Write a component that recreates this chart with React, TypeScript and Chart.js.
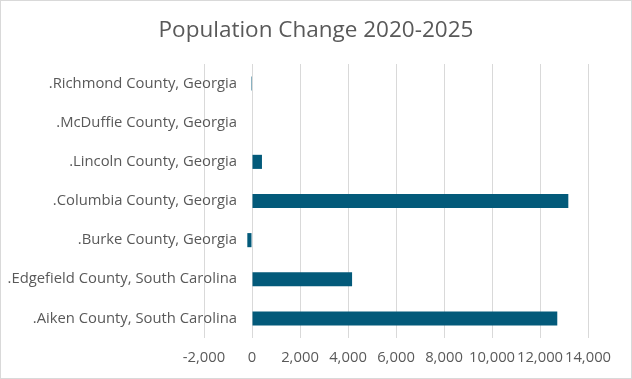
import React, { useEffect, useRef } from "react";
import { Chart, registerables } from "chart.js";

Chart.register(...registerables);

const categories = [
  ".Richmond County, Georgia",
  ".McDuffie County, Georgia",
  ".Lincoln County, Georgia",
  ".Columbia County, Georgia",
  ".Burke County, Georgia",
  ".Edgefield County, South Carolina",
  ".Aiken County, South Carolina",
];
const populationChange = [-40, 0, 415, 13180, -195, 4170, 12720];
const titleText = "Population Change 2020-2025";
const xMin = -2000;
const xMax = 14000;
const xStep = 2000;

export default function App() {
  const ref = useRef<HTMLCanvasElement | null>(null);
  useEffect(() => {
    document.body.style.margin = "0";
    const ctx = ref.current!;
    const family = "'Open Sans', sans-serif";
    const labelSize = 14.8;
    const m = document.createElement("canvas").getContext("2d")!;
    m.font = `${labelSize}px ${family}`;
    const widest = Math.max(...categories.map((c) => m.measureText(c).width));
    const chart = new Chart(ctx, {
      type: "bar",
      data: {
        labels: categories,
        datasets: [
          {
            data: populationChange,
            backgroundColor: "#035a7a",
            barPercentage: 0.9,
            categoryPercentage: 0.4,
          },
        ],
      },
      options: {
        indexAxis: "y",
        animation: false,
        responsive: false,
        layout: { padding: { left: 43, right: 43, top: 1, bottom: 0 } },
        plugins: {
          legend: { display: false },
          tooltip: { enabled: false },
          title: {
            display: true,
            text: titleText,
            color: "#595959",
            font: { family, size: 22.5, weight: "normal" },
            padding: { top: 15, bottom: 20 },
          },
        },
        scales: {
          x: {
            min: xMin,
            max: xMax,
            ticks: {
              stepSize: xStep,
              color: "#595959",
              font: { family, size: labelSize },
              padding: 11,
              maxRotation: 0,
              autoSkip: false,
            },
            grid: { color: "#d9d9d9", drawTicks: false },
            border: { display: false },
            afterFit: (scale: any) => {
              scale.height = 40;
            },
          },
          y: {
            ticks: {
              color: "#595959",
              font: { family, size: labelSize },
              mirror: true,
              crossAlign: "far",
              padding: 33 - widest,
              autoSkip: false,
            },
            grid: { display: false, drawTicks: false },
            border: { display: false },
            afterFit: (scale: any) => {
              scale.width = 160;
            },
          },
        },
      },
    });
    return () => chart.destroy();
  }, []);
  return (
    <div
      style={{
        width: 632,
        height: 379,
        boxSizing: "border-box",
        border: "1px solid #d9d9d9",
        background: "#fff",
      }}
    >
      <canvas ref={ref} width={630} height={377} style={{ display: "block" }} />
    </div>
  );
}
